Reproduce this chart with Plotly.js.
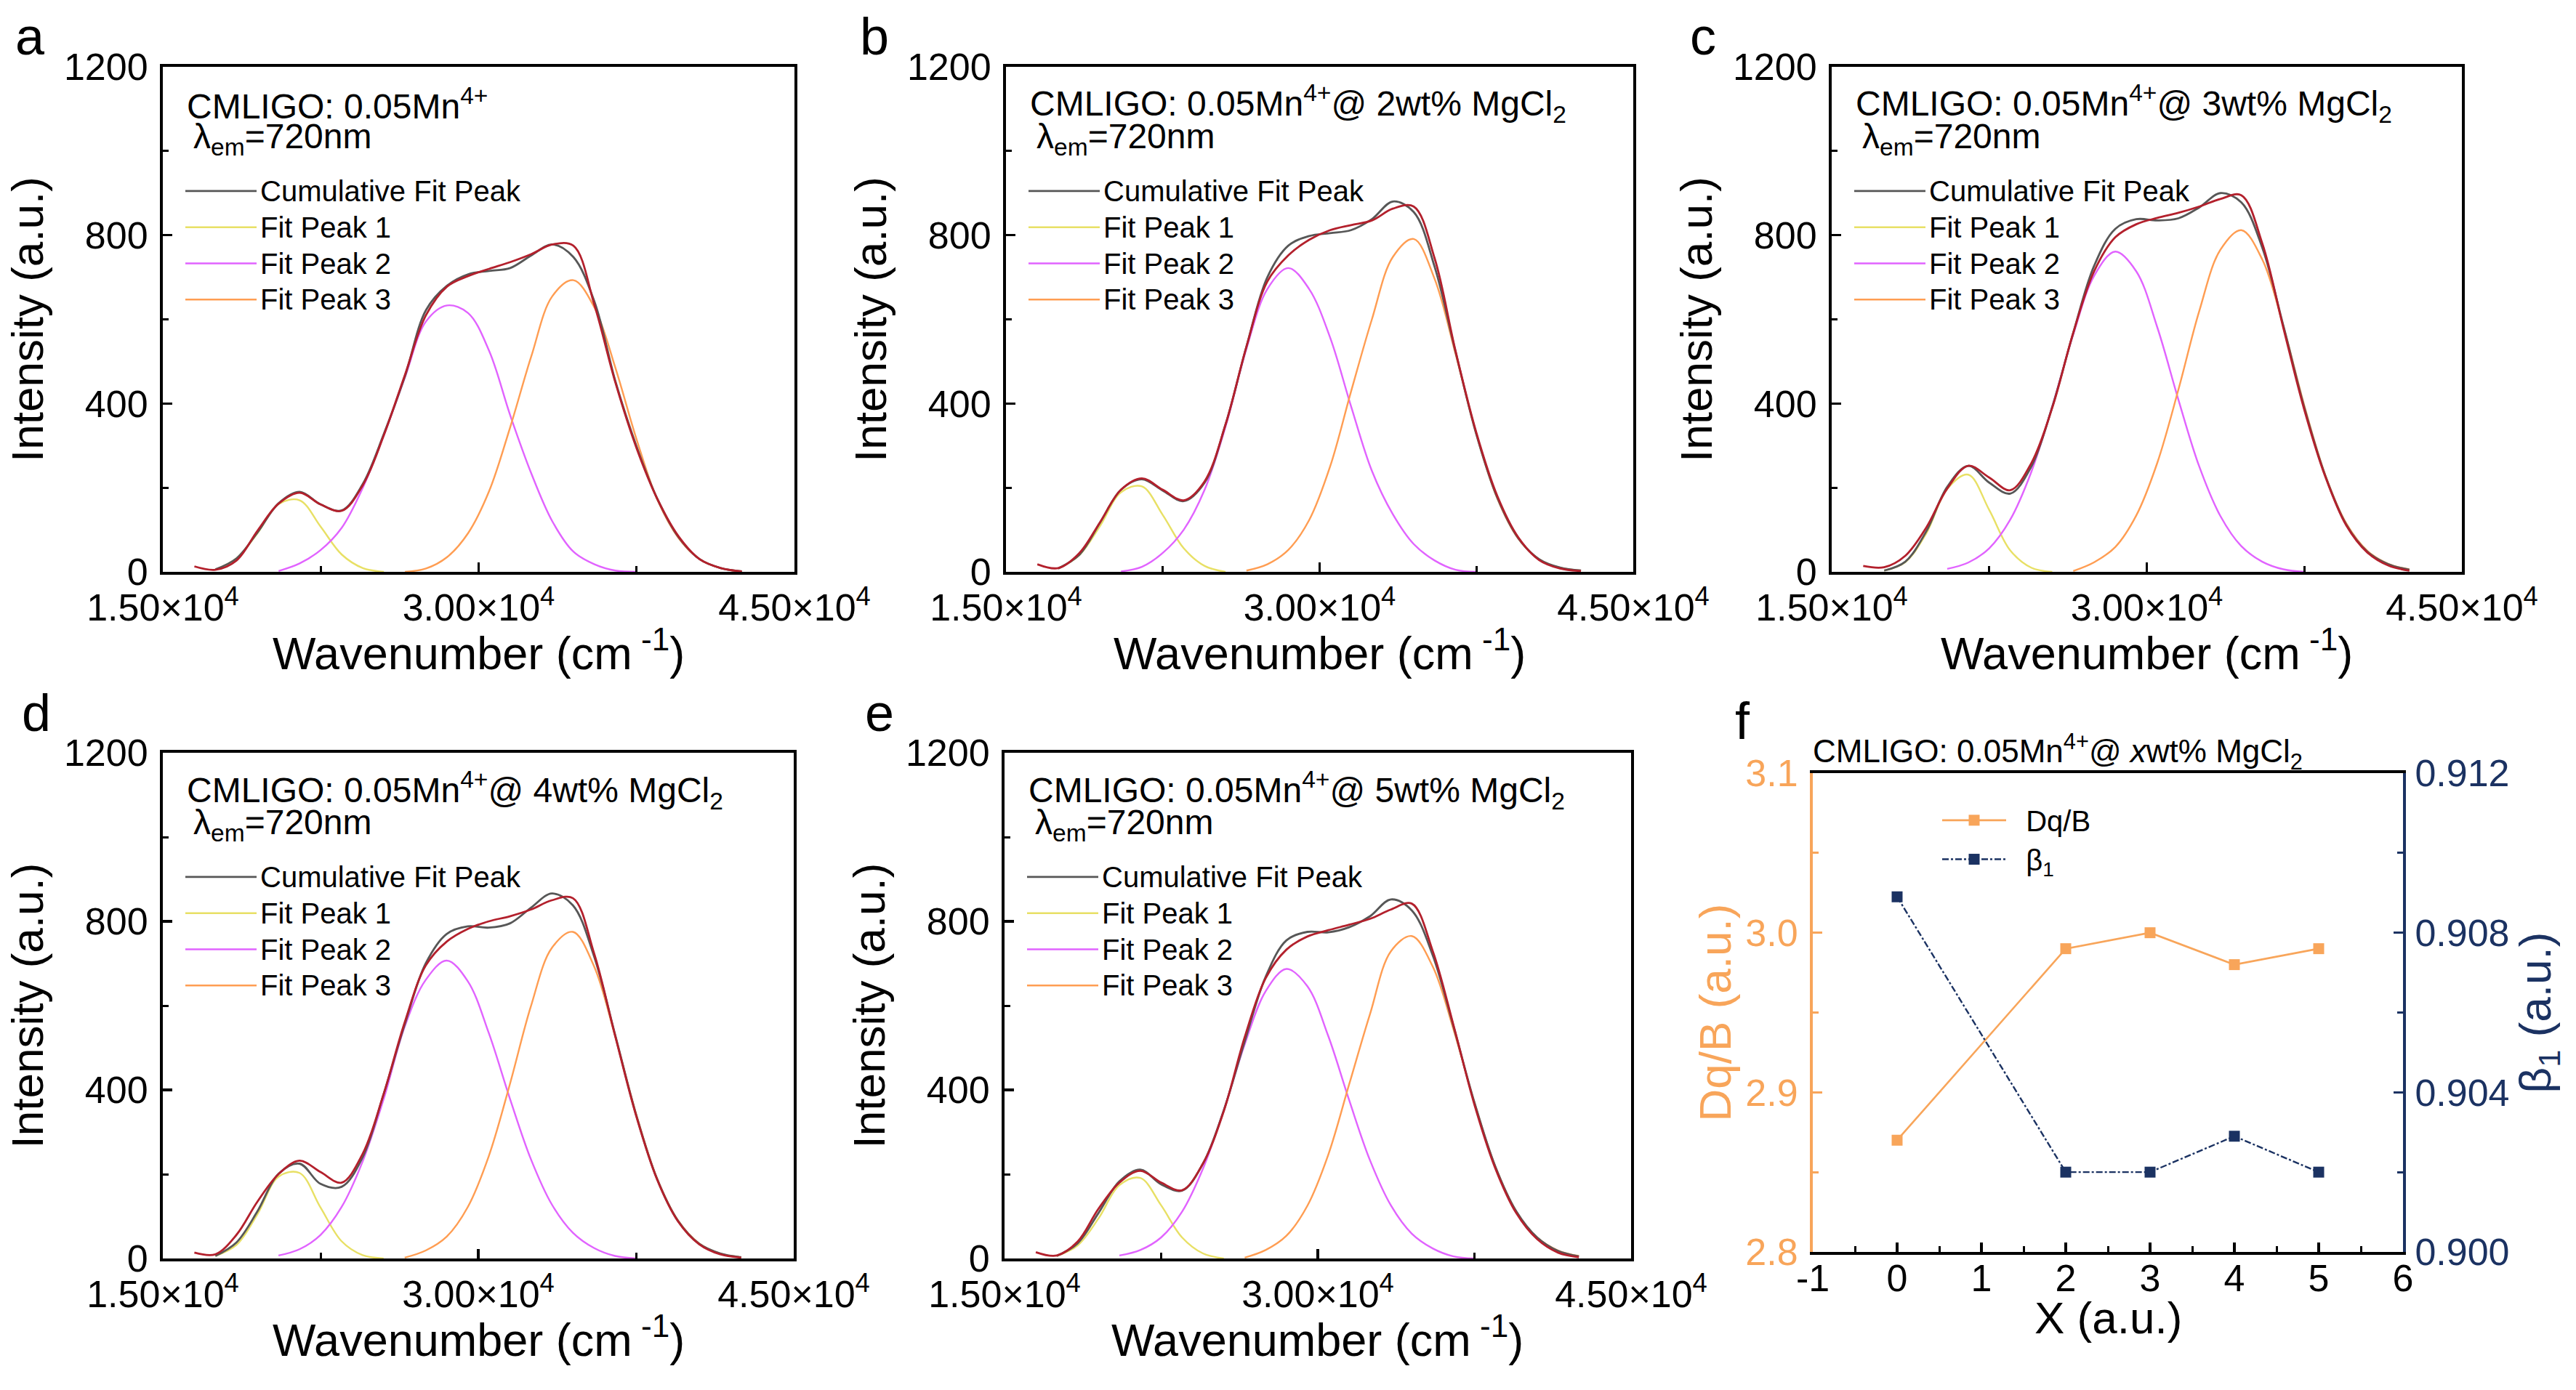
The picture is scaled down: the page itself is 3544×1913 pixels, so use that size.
<!DOCTYPE html>
<html>
<head>
<meta charset="utf-8">
<script src="https://cdn.plot.ly/plotly-3.0.1.min.js"></script>
<style>
html, body { margin: 0; padding: 0; background: #fff; }
#chart { width: 3544px; height: 1913px; }
</style>
</head>
<body>
<div id="chart"></div>
<script>
// wavenumber grid (cm-1) the spectra were read on
var wavenumber = [16500, 17500, 18500, 19500, 20500, 21500, 22500, 23500, 24500, 25500, 26500, 27500, 28500, 29500,
	30500, 31500, 32500, 33500, 34500, 35500, 36500, 37500, 38500, 39500, 40500, 41500, 42500];

// a: 0.05Mn4+
var aFit1 = [null, 5, 32, 92, 161, 170, 107, 41, 9, 0, null, null, null, null, null, null, null, null, null, null, null, null, null, null, null, null, null];
var aFit2 = [null, null, null, null, 2, 20, 52, 105, 200, 325, 462, 595, 633, 615, 525, 372, 234, 120, 48, 18, 3, 0, null, null, null, null, null];
var aFit3 = [null, null, null, null, null, null, null, null, null, null, 0, 8, 35, 92, 192, 344, 512, 655, 693, 628, 484, 315, 170, 80, 30, 9, 1];
var aCum = [null, 6, 32, 94, 163, 190, 160, 146, 209, 328, 465, 622, 680, 707, 715, 722, 752, 778, 748, 642, 452, 298, 172, 82, 30, 9, 1];
var aData = [13, 5, 27, 98, 162, 188, 160, 145, 206, 325, 468, 610, 678, 703, 720, 736, 755, 778, 775, 634, 449, 294, 172, 84, 30, 9, 1];

// b: 2wt% MgCl2
var bFit1 = [null, 8, 39, 109, 189, 203, 135, 56, 14, 0, null, null, null, null, null, null, null, null, null, null, null, null, null, null, null, null, null];
var bFit2 = [null, null, null, null, 1, 12, 45, 100, 195, 345, 530, 672, 722, 672, 557, 394, 240, 137, 66, 27, 5, 0, null, null, null, null, null];
var bFit3 = [null, null, null, null, null, null, null, null, null, null, 3, 18, 52, 123, 250, 428, 600, 748, 791, 696, 518, 326, 174, 79, 30, 10, 3];
var bCum = [null, 8, 40, 117, 195, 220, 193, 168, 212, 350, 535, 700, 775, 798, 805, 812, 838, 880, 855, 725, 523, 326, 176, 80, 30, 10, 3];
var bData = [18, 9, 44, 118, 195, 222, 195, 170, 215, 350, 535, 690, 752, 789, 812, 824, 835, 863, 868, 745, 525, 330, 180, 82, 28, 8, 2];

// c: 3wt% MgCl2
var cFit1 = [null, 3, 23, 91, 197, 231, 147, 51, 10, 0, null, null, null, null, null, null, null, null, null, null, null, null, null, null, null, null, null];
var cFit2 = [null, null, null, null, 7, 22, 56, 124, 237, 393, 564, 704, 761, 714, 581, 410, 250, 133, 61, 24, 6, 0, null, null, null, null, null];
var cFit3 = [null, null, null, null, null, null, null, null, null, null, 2, 23, 59, 134, 259, 432, 620, 765, 812, 742, 584, 395, 230, 115, 50, 19, 6];
var cCum = [null, 3, 24, 96, 202, 252, 212, 186, 250, 392, 568, 728, 815, 838, 835, 840, 866, 900, 878, 770, 585, 390, 228, 112, 48, 18, 5];
var cData = [14, 11, 38, 105, 198, 252, 224, 194, 258, 390, 568, 715, 795, 826, 841, 853, 868, 886, 895, 780, 580, 385, 226, 110, 46, 15, 3];

// d: 4wt% MgCl2
var dFit1 = [null, 6, 32, 105, 194, 203, 121, 41, 8, 0, null, null, null, null, null, null, null, null, null, null, null, null, null, null, null, null, null];
var dFit2 = [null, null, null, null, 7, 22, 56, 122, 230, 378, 550, 661, 707, 658, 535, 380, 236, 128, 61, 25, 6, 0, null, null, null, null, null];
var dFit3 = [null, null, null, null, null, null, null, null, null, null, 2, 19, 52, 122, 243, 413, 598, 737, 775, 694, 529, 344, 190, 90, 36, 12, 3];
var dCum = [null, 6, 38, 112, 201, 225, 177, 170, 240, 390, 555, 700, 770, 788, 785, 795, 832, 866, 838, 718, 532, 342, 189, 89, 35, 12, 3];
var dData = [14, 10, 56, 135, 200, 232, 205, 180, 248, 390, 560, 695, 752, 782, 800, 812, 828, 850, 855, 725, 530, 340, 188, 88, 34, 10, 2];

// e: 5wt% MgCl2
var eFit1 = [null, 6, 31, 95, 174, 191, 126, 50, 12, 0, null, null, null, null, null, null, null, null, null, null, null, null, null, null, null, null, null];
var eFit2 = [null, null, null, null, 7, 20, 50, 111, 213, 352, 508, 634, 687, 646, 528, 376, 233, 126, 59, 24, 5, 0, null, null, null, null, null];
var eFit3 = [null, null, null, null, null, null, null, null, null, null, 2, 20, 54, 125, 246, 413, 580, 729, 765, 693, 543, 370, 218, 112, 50, 19, 6];
var eCum = [null, 6, 36, 108, 183, 211, 176, 161, 225, 352, 515, 668, 755, 775, 774, 786, 812, 852, 826, 720, 550, 370, 218, 112, 50, 18, 5];
var eData = [15, 7, 40, 118, 180, 208, 180, 162, 225, 350, 525, 665, 733, 764, 779, 792, 806, 828, 842, 730, 553, 365, 214, 108, 46, 14, 3];

var xTickVals = [15000, 30000, 45000];
var xTickText = ["1.50×10<sup>4</sup>", "3.00×10<sup>4</sup>", "4.50×10<sup>4</sup>"];

// f: crystal field parameters vs MgCl2 content
var mgcl2 = [0, 2, 3, 4, 5];
var dqB = [2.87, 2.99, 3.00, 2.98, 2.99];
var beta1 = [0.9089, 0.9020, 0.9020, 0.9029, 0.9020];
var fTickVals = [-1, 0, 1, 2, 3, 4, 5, 6];
var fTickText = ["-1", "0", "1", "2", "3", "4", "5", "6"];

var W = 3544, H = 1913;
var FONT = "Liberation Sans, Arial, sans-serif";
var ORANGE = "#f8a55a";
var NAVY = "#1b3262";

function xdom(l, r) { return [l / W, r / W]; }
function ydom(t, b) { return [1 - b / H, 1 - t / H]; }
// legend rows are spaced by the legend font, the label itself is drawn a bit larger
function big(t) { return '<span style="font-size:40px">' + t + '</span>'; }

var traces = [];
var annotations = [];
var layout = {
	width: W,
	height: H,
	margin: {l: 0, r: 0, t: 0, b: 0},
	paper_bgcolor: "#fff",
	plot_bgcolor: "rgba(0,0,0,0)",
	font: {family: FONT, color: "#000", size: 40},
	showlegend: true
};

function note(x, y, text, size, anchor, color) {
	annotations.push({
		xref: "paper", yref: "paper", x: x / W, y: 1 - y / H,
		text: text, showarrow: false, xanchor: anchor || "left", yanchor: "middle",
		font: {family: FONT, size: size, color: color || "#000"}
	});
}

function spectrum(n, box, letter, label, fit1, fit2, fit3, cum, meas) {
	var s = n === 1 ? "" : String(n);
	var xa = "x" + s, ya = "y" + s, lg = "legend" + s;

	var lines = [
		{y: fit1, name: "Fit Peak 1", color: "#e8e065", w: 2.4, rank: 2},
		{y: fit2, name: "Fit Peak 2", color: "#e163ff", w: 2.4, rank: 3},
		{y: fit3, name: "Fit Peak 3", color: "#ff9d52", w: 2.4, rank: 4},
		{y: cum, name: "Cumulative Fit Peak", color: "#575757", w: 2.8, rank: 1},
		{y: meas, name: "data", color: "#b3202c", w: 2.8, rank: 5, hide: true}
	];
	lines.forEach(function (c) {
		traces.push({
			x: wavenumber, y: c.y, type: "scatter", mode: "lines", name: big(c.name),
			xaxis: xa, yaxis: ya, legend: lg, legendrank: c.rank,
			showlegend: !c.hide,
			line: {color: c.color, width: c.w, shape: "spline", smoothing: 1}
		});
	});

	layout["xaxis" + s] = {
		domain: xdom(box.l, box.r), anchor: ya, range: [15000, 45000],
		tickmode: "array", tickvals: xTickVals, ticktext: xTickText,
		ticks: "inside", ticklen: 13, tickwidth: 3.5, tickcolor: "#000",
		minor: {tickmode: "array", tickvals: [22500, 37500], ticks: "inside", ticklen: 8, tickwidth: 3, tickcolor: "#000"},
		showline: true, linecolor: "#000", linewidth: 4, mirror: true,
		showgrid: false, zeroline: false,
		tickfont: {size: 52}, ticklabelstandoff: 1
	};
	layout["yaxis" + s] = {
		domain: ydom(box.t, box.b), anchor: xa, range: [0, 1200],
		tickmode: "linear", tick0: 0, dtick: 400,
		ticks: "inside", ticklen: 13, tickwidth: 3.5, tickcolor: "#000",
		minor: {dtick: 200, ticks: "inside", ticklen: 8, tickwidth: 3, tickcolor: "#000"},
		showline: true, linecolor: "#000", linewidth: 4, mirror: true,
		showgrid: false, zeroline: false,
		tickfont: {size: 52}, ticklabelstandoff: 6,
		title: {text: "Intensity (a.u.)", font: {size: 62}, standoff: 9}
	};
	layout[lg] = {
		x: (box.l + 26) / W, y: 1 - (box.t + 141) / H, xanchor: "left", yanchor: "top",
		bgcolor: "rgba(0,0,0,0)", borderwidth: 0, itemwidth: 98,
		font: {family: FONT, size: 36, color: "#000"}, tracegroupgap: 0
	};

	note((box.l + box.r) / 2, box.b + 107, "Wavenumber (cm<sup> -1</sup>)", 63, "center");
	note(box.l + 31, box.t + 51, label, 48);
	note(box.l + 40, box.t + 99, "λ<sub>em</sub>=720nm", 48);
	note(letter.x, letter.y, letter.t, 72, "center");
}

spectrum(1, {l: 224, r: 1093, t: 92, b: 787}, {x: 41, y: 50, t: "a"}, "CMLIGO: 0.05Mn<sup>4+</sup>", aFit1, aFit2, aFit3, aCum, aData);
spectrum(2, {l: 1384, r: 2247, t: 92, b: 787}, {x: 1203, y: 50, t: "b"}, "CMLIGO: 0.05Mn<sup>4+</sup>@ 2wt% MgCl<sub>2</sub>", bFit1, bFit2, bFit3, bCum, bData);
spectrum(3, {l: 2520, r: 3387, t: 92, b: 787}, {x: 2343, y: 50, t: "c"}, "CMLIGO: 0.05Mn<sup>4+</sup>@ 3wt% MgCl<sub>2</sub>", cFit1, cFit2, cFit3, cCum, cData);
spectrum(4, {l: 224, r: 1092, t: 1036, b: 1732}, {x: 50, y: 981, t: "d"}, "CMLIGO: 0.05Mn<sup>4+</sup>@ 4wt% MgCl<sub>2</sub>", dFit1, dFit2, dFit3, dCum, dData);
spectrum(5, {l: 1382, r: 2244, t: 1036, b: 1732}, {x: 1210, y: 981, t: "e"}, "CMLIGO: 0.05Mn<sup>4+</sup>@ 5wt% MgCl<sub>2</sub>", eFit1, eFit2, eFit3, eCum, eData);

// panel f
traces.push({
	x: mgcl2, y: dqB, type: "scatter", mode: "lines+markers", name: big("\u00a0\u00a0Dq/B"),
	xaxis: "x6", yaxis: "y6", legend: "legend6",
	line: {color: ORANGE, width: 2.6},
	marker: {symbol: "square", size: 15, color: ORANGE}
});
traces.push({
	x: mgcl2, y: beta1, type: "scatter", mode: "lines+markers", name: big("\u00a0\u00a0β<sub>1</sub>"),
	xaxis: "x6", yaxis: "y7", legend: "legend6",
	line: {color: NAVY, width: 2.4, dash: "dashdot"},
	marker: {symbol: "square", size: 15, color: NAVY}
});

layout.xaxis6 = {
	domain: xdom(2494, 3306), anchor: "y6", range: [-1, 6],
	tickmode: "array", tickvals: fTickVals, ticktext: fTickText,
	ticks: "inside", ticklen: 13, tickwidth: 3.5, tickcolor: "#000",
	minor: {tickmode: "array", tickvals: [-0.5, 0.5, 1.5, 2.5, 3.5, 4.5, 5.5], ticks: "inside", ticklen: 8, tickwidth: 3, tickcolor: "#000"},
	showline: true, linecolor: "#000", linewidth: 4, mirror: true,
	showgrid: false, zeroline: false,
	tickfont: {size: 52}, ticklabelstandoff: -12
};
layout.yaxis6 = {
	domain: ydom(1064, 1723), anchor: "x6", range: [2.8, 3.1],
	tickmode: "linear", tick0: 2.8, dtick: 0.1, tickformat: ".1f",
	ticks: "inside", ticklen: 13, tickwidth: 3.5, tickcolor: ORANGE,
	minor: {dtick: 0.05, ticks: "inside", ticklen: 8, tickwidth: 3, tickcolor: ORANGE},
	showline: true, linecolor: ORANGE, linewidth: 4,
	showgrid: false, zeroline: false,
	tickfont: {size: 52, color: ORANGE}, ticklabelstandoff: 6,
	title: {text: "Dq/B (a.u.)", font: {size: 62, color: ORANGE}, standoff: 1}
};
layout.yaxis7 = {
	overlaying: "y6", side: "right", anchor: "x6", range: [0.900, 0.912],
	tickmode: "linear", tick0: 0.9, dtick: 0.004, tickformat: ".3f",
	ticks: "inside", ticklen: 13, tickwidth: 3.5, tickcolor: NAVY,
	minor: {dtick: 0.002, ticks: "inside", ticklen: 8, tickwidth: 3, tickcolor: NAVY},
	showline: true, linecolor: NAVY, linewidth: 4,
	showgrid: false, zeroline: false,
	tickfont: {size: 52, color: NAVY}, ticklabelstandoff: 2,
	title: {text: "β<sub>1</sub> (a.u.)", font: {size: 62, color: NAVY}, standoff: 14}
};
layout.legend6 = {
	x: 2667 / W, y: 1 - 1097 / H, xanchor: "left", yanchor: "top",
	bgcolor: "rgba(0,0,0,0)", borderwidth: 0, itemwidth: 88,
	font: {family: FONT, size: 39, color: "#000"}, tracegroupgap: 0
};
note(2900, 1813, "X (a.u.)", 62, "center");
note(2492, 1034, "CMLIGO: 0.05Mn<sup>4+</sup>@ <i>x</i>wt% MgCl<sub>2</sub>", 44);
note(2397, 992, "f", 72, "center");

layout.annotations = annotations;

Plotly.newPlot("chart", traces, layout, {staticPlot: true, displayModeBar: false});
</script>
</body>
</html>
